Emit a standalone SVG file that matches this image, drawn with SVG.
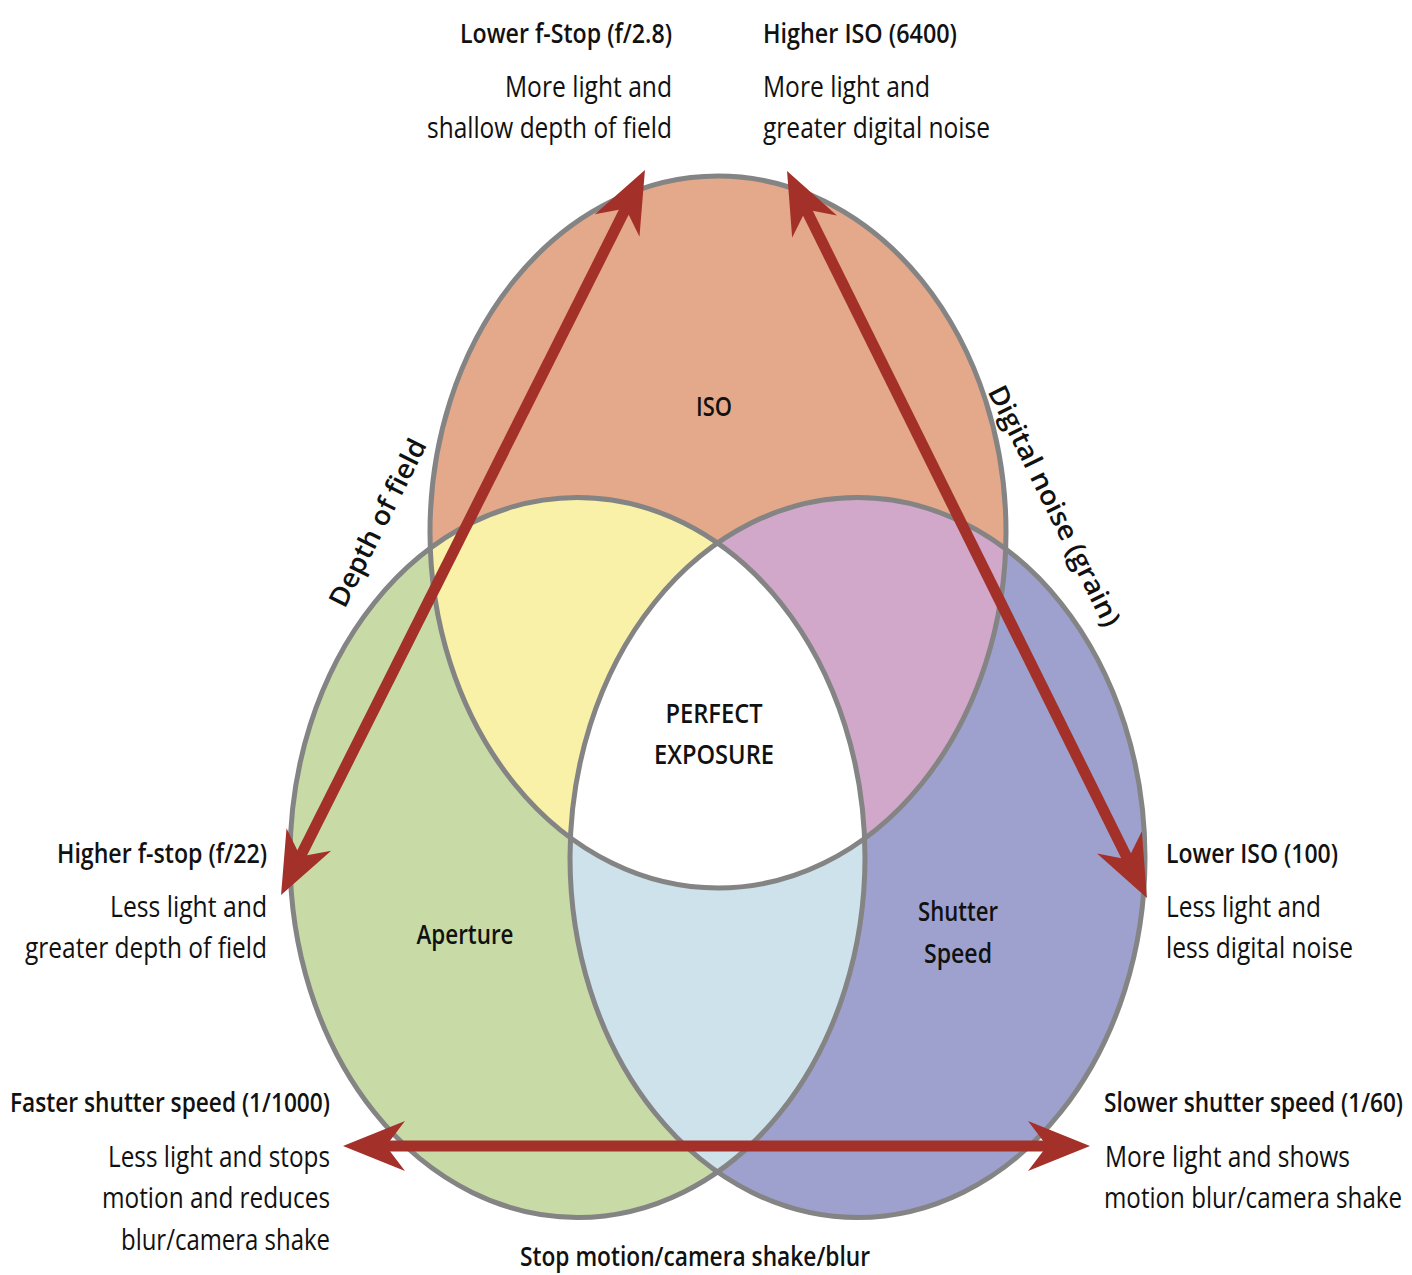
<svg xmlns="http://www.w3.org/2000/svg" width="1412" height="1275" viewBox="0 0 1412 1275">
<style>
.hd{font-family:"Open Sans","Liberation Sans",sans-serif;font-weight:600;font-size:27px;fill:#111}
.bd{font-family:"Open Sans","Liberation Sans",sans-serif;font-weight:400;font-size:30px;fill:#111}
.lb{font-family:"Open Sans","Liberation Sans",sans-serif;font-weight:600;font-size:27px;fill:#111;text-anchor:middle}
.ring{fill:none;stroke:#848484;stroke-width:5}
.arr{stroke:#A4302A;stroke-width:11;fill:none;marker-start:url(#ah);marker-end:url(#ah)}
</style>
<defs>
<marker id="ah" markerUnits="userSpaceOnUse" viewBox="-64 -27 66 54" markerWidth="66" markerHeight="54" refX="-38" refY="0" orient="auto-start-reverse">
<path d="M0,0 L-62,-25 L-43,0 L-62,25 Z" fill="#A4302A"/>
</marker>
<ellipse id="eT" cx="718" cy="532" rx="288" ry="356"/>
<ellipse id="eL" cx="577.5" cy="857.5" rx="287.5" ry="360"/>
<ellipse id="eR" cx="857.5" cy="857.5" rx="287.5" ry="360"/>
<clipPath id="cT"><use href="#eT"/></clipPath>
<clipPath id="cL"><use href="#eL"/></clipPath>
<clipPath id="cR"><use href="#eR"/></clipPath>
</defs>
<rect width="1412" height="1275" fill="#fff"/>
<g id="iso">
<use href="#eT" fill="#E3A98A"/>
</g>
<g id="aperture">
<use href="#eL" fill="#C8DBA6"/>
</g>
<g id="shutter">
<use href="#eR" fill="#9EA1CD"/>
</g>
<g id="overlaps">
<use href="#eL" fill="#F9F1A8" clip-path="url(#cT)"/>
<use href="#eR" fill="#D1A8C9" clip-path="url(#cT)"/>
<use href="#eR" fill="#CDE2EA" clip-path="url(#cL)"/>
<g clip-path="url(#cT)"><use href="#eL" fill="#FFFFFF" clip-path="url(#cR)"/></g>
</g>
<g id="rings">
<use href="#eT" class="ring"/>
<use href="#eL" class="ring"/>
<use href="#eR" class="ring"/>
</g>
<g id="connectors">
<line class="arr" x1="627.9" y1="204.0" x2="298.1" y2="861.0"/>
<line class="arr" x1="803.9" y1="205.1" x2="1130.1" y2="863.9"/>
<line class="arr" x1="381" y1="1146" x2="1052" y2="1146"/>
</g>
<g id="labels">
<text class="lb" x="714" y="416" textLength="36" lengthAdjust="spacingAndGlyphs">ISO</text>
<text class="lb" x="714" y="723" textLength="97" lengthAdjust="spacingAndGlyphs">PERFECT</text>
<text class="lb" x="714" y="764" textLength="120" lengthAdjust="spacingAndGlyphs">EXPOSURE</text>
<text class="lb" x="465" y="944" textLength="97" lengthAdjust="spacingAndGlyphs">Aperture</text>
<text class="lb" x="958" y="921" textLength="80" lengthAdjust="spacingAndGlyphs">Shutter</text>
<text class="lb" x="958" y="963" textLength="68" lengthAdjust="spacingAndGlyphs">Speed</text>
<text class="lb" transform="translate(386 527) rotate(-63.3)" textLength="184" lengthAdjust="spacingAndGlyphs">Depth of field</text>
<text class="lb" transform="translate(1046 510) rotate(63.7)" textLength="265" lengthAdjust="spacingAndGlyphs">Digital noise (grain)</text>
</g>
<g id="top-left" text-anchor="end">
<text class="hd" x="672" y="43" textLength="212" lengthAdjust="spacingAndGlyphs">Lower f-Stop (f/2.8)</text>
<text class="bd" x="672" y="97" textLength="167" lengthAdjust="spacingAndGlyphs">More light and</text>
<text class="bd" x="672" y="138" textLength="245" lengthAdjust="spacingAndGlyphs">shallow depth of field</text>
</g>
<g id="top-right">
<text class="hd" x="763" y="43" textLength="194" lengthAdjust="spacingAndGlyphs">Higher ISO (6400)</text>
<text class="bd" x="763" y="97" textLength="167" lengthAdjust="spacingAndGlyphs">More light and</text>
<text class="bd" x="763" y="138" textLength="227" lengthAdjust="spacingAndGlyphs">greater digital noise</text>
</g>
<g id="mid-left" text-anchor="end">
<text class="hd" x="267" y="863" textLength="210" lengthAdjust="spacingAndGlyphs">Higher f-stop (f/22)</text>
<text class="bd" x="267" y="917" textLength="157" lengthAdjust="spacingAndGlyphs">Less light and</text>
<text class="bd" x="267" y="958" textLength="242" lengthAdjust="spacingAndGlyphs">greater depth of field</text>
</g>
<g id="mid-right">
<text class="hd" x="1166" y="863" textLength="172" lengthAdjust="spacingAndGlyphs">Lower ISO (100)</text>
<text class="bd" x="1166" y="917" textLength="155" lengthAdjust="spacingAndGlyphs">Less light and</text>
<text class="bd" x="1166" y="958" textLength="187" lengthAdjust="spacingAndGlyphs">less digital noise</text>
</g>
<g id="bottom-left" text-anchor="end">
<text class="hd" x="330" y="1112" textLength="320" lengthAdjust="spacingAndGlyphs">Faster shutter speed (1/1000)</text>
<text class="bd" x="330" y="1167" textLength="222" lengthAdjust="spacingAndGlyphs">Less light and stops</text>
<text class="bd" x="330" y="1208" textLength="228" lengthAdjust="spacingAndGlyphs">motion and reduces</text>
<text class="bd" x="330" y="1250" textLength="209" lengthAdjust="spacingAndGlyphs">blur/camera shake</text>
</g>
<g id="bottom-right">
<text class="hd" transform="translate(1104 1112) scale(0.84 1)" textLength="356" lengthAdjust="spacingAndGlyphs">Slower shutter speed (1/60)</text>
<text class="bd" x="1105" y="1167" textLength="245" lengthAdjust="spacingAndGlyphs">More light and shows</text>
<text class="bd" transform="translate(1104 1208) scale(0.81 1)" textLength="368" lengthAdjust="spacingAndGlyphs">motion blur/camera shake</text>
</g>
<g id="bottom-center">
<text class="lb" x="695" y="1266" textLength="350" lengthAdjust="spacingAndGlyphs">Stop motion/camera shake/blur</text>
</g>
</svg>
